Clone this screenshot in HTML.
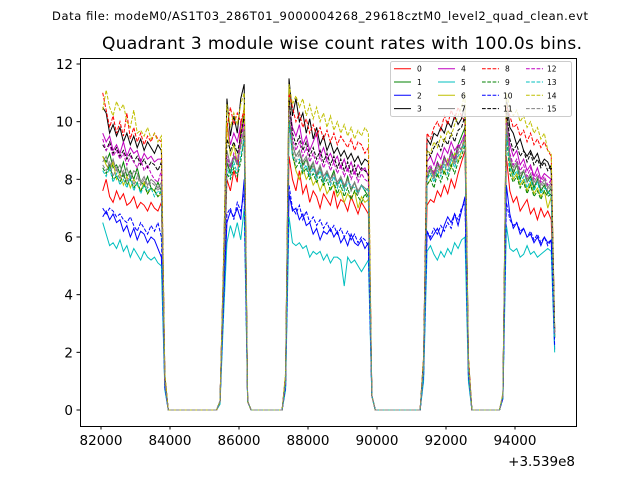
<!DOCTYPE html>
<html><head><meta charset="utf-8"><style>
body{margin:0;background:#fff}
svg{display:block;font-family:"DejaVu Sans","Liberation Sans",sans-serif}
</style></head><body>
<svg id="chart" width="640" height="480" viewBox="0 0 640 480">
<text x="320" y="20" text-anchor="middle" font-size="11.5" textLength="536">Data file: modeM0/AS1T03_286T01_9000004268_29618cztM0_level2_quad_clean.evt</text>
<text x="342" y="49" text-anchor="middle" font-size="17" textLength="480">Quadrant 3 module wise count rates with 100.0s bins.</text>
<g id="ticks"></g>
<g id="lines"></g>
<rect x="80.5" y="58.5" width="496" height="368" fill="none" stroke="#000" stroke-width="1"/>
<g id="legend"></g>
<text x="575" y="466" text-anchor="end" font-size="13.5">+3.539e8</text>
</svg>
<script>
const xTicks=[82000,84000,86000,88000,90000,92000,94000];
const yTicks=[0,2,4,6,8,10,12];
const startTime=82050, binSize=100;
const colors=['#ff0000','#008000','#0000ff','#000000','#bf00bf','#00bfbf','#bfbf00','#808080'];
const s0=[7.6,8.0,7.4,7.2,7.6,7.3,7.5,7.1,7.2,7.4,7.0,7.2,7.1,6.9,7.2,7.0,6.9,7.2,1.0,0,0,0,0,0,0,0,0,0,0,0,0,0,0,0,0.3,4.0,8.0,7.6,8.3,7.9,10.0,9.5,0.3,0,0,0,0,0,0,0,0,0,0,1.0,8.8,8.0,7.6,8.3,7.5,7.8,7.2,7.6,7.4,7.0,7.5,7.3,7.1,7.6,7.0,7.3,7.2,6.9,7.4,7.1,6.8,7.2,7.0,6.8,0.5,0,0,0,0,0,0,0,0,0,0,0,0,0,0,1.5,7.1,7.3,7.2,7.6,7.4,7.8,7.5,8.0,7.7,8.2,8.6,9.0,1.5,0,0,0,0,0,0,0,0,0,0.5,8.8,7.6,7.2,7.4,6.9,7.1,7.3,6.8,7.0,6.6,7.0,6.7,6.9,6.6,2.5];
const s1=[8.8,8.6,8.9,8.4,8.5,8.2,8.6,8.1,8.3,8.0,8.4,7.9,7.8,8.1,7.7,7.6,7.9,7.6,1.0,0,0,0,0,0,0,0,0,0,0,0,0,0,0,0,0.3,4.5,8.6,8.2,8.8,8.5,9.6,10.2,0.3,0,0,0,0,0,0,0,0,0,0,1.0,10.0,9.2,8.8,9.0,8.5,8.7,8.3,8.6,8.1,8.4,7.9,8.2,8.0,8.3,7.8,8.0,7.7,8.1,7.6,7.9,7.5,7.8,7.6,7.4,0.5,0,0,0,0,0,0,0,0,0,0,0,0,0,0,1.5,8.0,8.4,8.2,8.6,8.3,8.8,8.5,9.0,8.7,9.2,9.5,9.8,1.5,0,0,0,0,0,0,0,0,0,0.5,9.8,8.6,8.2,8.5,8.0,8.3,7.9,8.1,7.7,8.0,7.6,7.8,7.5,7.7,2.5];
const s2=[6.7,6.9,6.6,6.8,6.5,6.6,6.2,6.4,6.0,6.3,5.9,6.2,6.1,5.8,6.0,5.9,5.6,5.3,0.8,0,0,0,0,0,0,0,0,0,0,0,0,0,0,0,0.3,3.5,6.5,6.9,6.7,7.0,6.6,8.0,0.3,0,0,0,0,0,0,0,0,0,0,0.8,7.5,6.9,7.0,6.6,6.8,6.4,6.5,6.1,6.3,5.9,6.2,6.1,6.3,6.0,6.2,5.8,6.0,5.7,6.1,5.8,5.7,5.9,5.6,5.8,0.5,0,0,0,0,0,0,0,0,0,0,0,0,0,0,1.2,6.2,5.9,6.1,6.3,6.0,6.4,6.7,6.5,6.8,6.4,6.9,7.4,1.2,0,0,0,0,0,0,0,0,0,0.4,7.8,6.8,6.3,6.5,6.1,6.3,6.0,6.1,5.8,6.0,5.7,6.0,5.8,5.9,2.1];
const s3=[10.5,10.3,9.6,9.9,9.5,9.8,9.3,9.6,9.2,9.5,9.1,9.4,9.0,9.3,9.1,8.9,9.2,9.0,1.2,0,0,0,0,0,0,0,0,0,0,0,0,0,0,0,0.3,5.0,10.8,9.5,10.2,9.6,10.8,11.3,0.3,0,0,0,0,0,0,0,0,0,0,1.2,11.5,10.2,10.8,10.0,10.3,9.6,10.1,9.4,9.8,9.2,9.5,9.0,9.3,8.9,9.1,8.8,9.0,8.7,8.9,8.6,8.8,8.5,8.7,8.6,0.5,0,0,0,0,0,0,0,0,0,0,0,0,0,0,1.8,9.4,9.2,9.6,9.5,9.8,9.6,10.0,9.8,10.2,9.9,10.1,10.6,1.8,0,0,0,0,0,0,0,0,0,0.5,10.8,9.8,9.6,9.2,9.4,9.0,8.8,9.0,8.7,8.9,8.5,8.7,8.6,8.3,2.8];
const s4=[9.6,9.3,9.5,9.0,9.2,8.9,9.3,8.8,9.1,8.9,9.0,8.6,8.9,8.7,8.8,8.6,8.7,8.7,1.1,0,0,0,0,0,0,0,0,0,0,0,0,0,0,0,0.3,4.8,10.0,9.2,9.6,9.3,9.9,10.4,0.3,0,0,0,0,0,0,0,0,0,0,1.1,10.6,9.8,9.5,9.9,9.2,9.5,9.0,9.3,9.6,8.8,9.1,8.7,8.9,8.6,8.8,8.4,8.7,8.3,8.6,8.2,8.5,8.3,8.4,8.1,0.5,0,0,0,0,0,0,0,0,0,0,0,0,0,0,1.6,8.6,8.8,8.5,8.9,8.7,9.1,8.9,9.3,9.0,9.2,9.0,9.6,1.6,0,0,0,0,0,0,0,0,0,0.5,10.2,9.2,8.8,9.0,8.5,8.7,8.3,8.5,8.1,8.4,8.0,8.2,8.1,8.0,2.7];
const s5=[6.5,6.1,5.7,5.8,5.6,5.9,5.5,5.7,5.3,5.6,5.4,5.2,5.5,5.3,5.2,5.3,5.1,5.0,0.7,0,0,0,0,0,0,0,0,0,0,0,0,0,0,0,0.2,3.2,5.8,6.4,6.0,6.5,5.9,7.0,0.3,0,0,0,0,0,0,0,0,0,0,0.7,6.7,5.8,5.7,5.8,5.6,5.7,5.3,5.5,5.4,5.5,5.2,5.4,5.1,5.3,5.3,5.2,4.3,5.3,5.1,5.2,5.0,4.8,5.0,5.2,0.5,0,0,0,0,0,0,0,0,0,0,0,0,0,0,1.0,5.5,5.7,5.4,5.2,5.5,5.3,5.6,5.4,5.8,5.6,5.9,6.0,1.0,0,0,0,0,0,0,0,0,0,0.4,6.4,5.6,5.5,5.6,5.3,5.4,5.7,5.4,5.5,5.3,5.4,5.5,5.6,5.5,2.0];
const s6=[8.8,8.5,8.3,8.6,8.0,8.2,7.8,8.1,7.7,8.0,7.8,7.6,7.9,7.5,7.7,7.6,7.4,7.5,1.0,0,0,0,0,0,0,0,0,0,0,0,0,0,0,0,0.3,4.6,10.0,8.8,9.2,8.6,9.4,10.6,0.3,0,0,0,0,0,0,0,0,0,0,1.0,11.2,8.9,8.3,8.0,8.4,8.0,8.2,7.8,8.0,7.6,7.9,7.5,7.7,7.8,7.4,7.6,7.2,7.5,7.3,7.6,7.0,7.4,7.2,7.3,0.5,0,0,0,0,0,0,0,0,0,0,0,0,0,0,1.5,7.8,8.0,8.3,8.1,8.5,8.2,8.7,8.4,8.9,8.6,9.0,9.4,1.5,0,0,0,0,0,0,0,0,0,0.5,10.6,8.4,8.0,8.2,7.8,8.0,7.6,7.9,7.5,7.7,7.4,7.6,7.0,7.4,2.6];
const s7=[8.6,8.8,8.4,8.7,8.3,8.5,8.1,8.4,8.0,8.3,8.2,7.9,8.1,7.8,8.0,7.9,7.7,7.9,1.0,0,0,0,0,0,0,0,0,0,0,0,0,0,0,0,0.3,4.7,9.0,8.5,8.8,8.6,9.2,9.8,0.3,0,0,0,0,0,0,0,0,0,0,1.0,11.0,9.2,8.8,9.0,8.6,8.8,8.4,8.6,8.2,8.5,8.1,8.3,8.0,8.2,7.9,8.1,7.8,8.0,7.7,7.9,7.6,7.8,7.7,7.6,0.5,0,0,0,0,0,0,0,0,0,0,0,0,0,0,1.5,8.2,8.4,8.1,8.5,8.3,8.7,8.5,8.9,8.6,9.0,9.3,9.6,1.5,0,0,0,0,0,0,0,0,0,0.5,10.4,8.8,8.4,8.6,8.2,8.3,8.0,8.2,7.9,8.1,7.8,8.0,7.7,7.9,2.7];
const s8=[11.0,10.4,9.8,10.2,9.6,10.0,9.5,10.3,9.4,9.8,9.3,9.6,9.2,9.5,9.3,9.6,9.4,9.3,1.2,0,0,0,0,0,0,0,0,0,0,0,0,0,0,0,0.3,5.0,9.8,10.5,9.9,10.3,10.0,10.4,0.3,0,0,0,0,0,0,0,0,0,0,1.2,11.0,10.5,10.0,10.3,9.8,10.1,9.6,9.9,9.5,9.8,9.4,9.7,9.3,9.6,9.2,9.5,9.3,9.1,9.4,9.0,9.3,9.2,8.9,9.1,0.5,0,0,0,0,0,0,0,0,0,0,0,0,0,0,1.8,9.6,9.4,9.8,10.0,9.7,10.2,9.9,10.4,10.1,10.5,10.2,10.0,1.8,0,0,0,0,0,0,0,0,0,0.5,10.6,10.2,9.8,9.9,9.5,9.7,9.3,9.6,9.2,9.4,9.1,9.3,9.0,8.8,2.8];
const s9=[8.4,8.2,8.5,8.0,8.1,7.9,8.2,7.8,8.0,7.7,7.9,7.6,7.8,7.5,7.7,7.6,7.4,7.6,1.0,0,0,0,0,0,0,0,0,0,0,0,0,0,0,0,0.3,4.3,8.2,8.0,8.4,8.1,8.6,9.5,0.3,0,0,0,0,0,0,0,0,0,0,1.0,10.2,8.8,8.4,8.6,8.2,8.4,8.0,8.2,7.9,8.1,7.8,8.0,7.6,7.9,7.5,7.8,7.4,7.7,7.3,7.6,7.4,7.2,7.5,7.3,0.5,0,0,0,0,0,0,0,0,0,0,0,0,0,0,1.4,7.8,8.0,7.7,8.2,7.9,8.3,8.0,8.5,8.2,8.6,8.8,9.2,1.4,0,0,0,0,0,0,0,0,0,0.5,9.5,8.2,7.9,8.1,7.7,7.9,7.5,7.8,7.4,7.6,7.3,7.6,7.4,7.5,2.5];
const s10=[7.0,6.8,7.0,6.9,6.7,6.8,6.6,6.5,6.7,6.4,6.2,6.5,6.3,6.1,6.4,6.2,6.5,6.0,0.8,0,0,0,0,0,0,0,0,0,0,0,0,0,0,0,0.3,3.6,6.8,7.0,6.6,7.2,6.9,7.5,0.3,0,0,0,0,0,0,0,0,0,0,0.8,7.8,7.0,6.8,7.1,6.6,6.9,6.5,6.7,6.4,6.6,6.3,6.5,6.2,6.4,6.1,6.3,6.0,6.2,5.9,6.1,5.8,6.0,5.9,5.7,0.5,0,0,0,0,0,0,0,0,0,0,0,0,0,0,1.2,6.2,6.0,6.3,6.1,6.4,6.2,6.5,6.3,6.8,6.6,7.0,7.2,1.2,0,0,0,0,0,0,0,0,0,0.4,7.2,6.6,6.4,6.5,6.2,6.3,6.0,6.2,5.9,6.1,5.8,6.0,5.7,5.9,2.2];
const s11=[9.2,9.0,9.3,8.9,9.1,8.8,9.0,8.7,8.9,8.6,8.8,8.5,8.7,8.4,8.6,8.5,8.3,8.6,1.1,0,0,0,0,0,0,0,0,0,0,0,0,0,0,0,0.3,4.8,9.4,9.0,9.3,8.9,9.5,10.2,0.3,0,0,0,0,0,0,0,0,0,0,1.1,10.8,9.6,9.2,9.5,9.0,9.3,8.8,9.1,8.7,9.0,8.6,8.9,8.5,8.8,8.4,8.7,8.3,8.6,8.2,8.5,8.1,8.4,8.3,8.2,0.5,0,0,0,0,0,0,0,0,0,0,0,0,0,0,1.6,9.0,8.8,9.1,9.3,9.0,9.4,9.2,9.6,9.3,9.7,9.8,10.2,1.6,0,0,0,0,0,0,0,0,0,0.5,10.4,9.4,9.0,9.2,8.8,9.0,8.6,8.9,8.5,8.7,8.4,8.6,8.3,8.5,2.7];
const s12=[9.4,9.0,9.2,8.8,9.0,8.7,8.9,8.5,8.8,8.6,8.4,8.7,8.3,8.5,8.2,8.0,7.9,8.3,1.0,0,0,0,0,0,0,0,0,0,0,0,0,0,0,0,0.3,4.6,8.8,8.4,8.9,8.6,9.4,10.0,0.3,0,0,0,0,0,0,0,0,0,0,1.0,10.4,9.4,9.0,9.3,8.8,9.1,8.6,8.9,8.5,8.8,8.4,8.7,8.3,8.6,8.2,8.5,8.1,8.4,8.0,8.3,7.9,8.2,8.0,7.9,0.5,0,0,0,0,0,0,0,0,0,0,0,0,0,0,1.5,8.3,8.5,8.2,8.6,8.4,8.8,8.5,9.0,8.7,9.1,9.3,9.6,1.5,0,0,0,0,0,0,0,0,0,0.5,10.0,8.9,8.5,8.7,8.3,8.5,8.1,8.4,8.0,8.2,7.9,8.1,7.8,8.0,2.6];
const s13=[8.3,8.1,8.4,7.9,8.2,7.8,8.0,7.7,8.1,7.6,7.9,7.5,7.8,7.6,7.7,7.4,7.6,7.5,1.0,0,0,0,0,0,0,0,0,0,0,0,0,0,0,0,0.3,4.4,8.4,8.1,8.6,8.2,8.8,9.4,0.3,0,0,0,0,0,0,0,0,0,0,1.0,10.0,8.8,8.6,8.7,8.3,8.5,8.1,8.4,8.0,8.3,7.9,8.2,7.8,8.1,7.7,8.0,7.6,7.9,7.8,7.7,7.5,7.8,7.6,7.7,0.5,0,0,0,0,0,0,0,0,0,0,0,0,0,0,1.4,8.0,8.2,7.9,8.3,8.1,8.5,8.2,8.7,8.4,8.8,9.0,9.3,1.4,0,0,0,0,0,0,0,0,0,0.5,9.6,8.4,8.1,8.3,7.9,8.1,7.7,8.0,7.6,7.9,7.5,7.7,7.6,7.4,2.5];
const s14=[10.4,11.1,10.5,10.2,10.7,10.4,10.6,10.0,9.8,10.4,9.6,9.7,9.5,9.8,9.4,9.6,9.3,9.5,1.3,0,0,0,0,0,0,0,0,0,0,0,0,0,0,0,0.3,5.2,10.6,9.8,10.3,9.9,10.6,11.0,0.3,0,0,0,0,0,0,0,0,0,0,1.3,11.3,10.6,10.9,10.5,10.8,10.2,10.6,10.1,10.5,10.0,10.3,9.8,10.2,9.7,10.0,9.6,9.9,9.5,9.8,9.4,9.7,9.5,9.8,9.6,0.5,0,0,0,0,0,0,0,0,0,0,0,0,0,0,1.8,9.0,8.9,9.3,9.1,9.5,9.3,9.7,9.5,9.9,10.2,10.5,11.0,1.8,0,0,0,0,0,0,0,0,0,0.6,11.0,10.5,10.2,10.4,10.0,10.2,9.8,10.0,9.6,9.8,9.4,9.6,9.0,8.9,2.9];
const s15=[8.5,8.3,8.6,8.1,8.4,8.0,8.3,7.9,8.2,7.8,8.1,7.8,8.0,7.7,7.9,7.8,7.6,7.8,1.0,0,0,0,0,0,0,0,0,0,0,0,0,0,0,0,0.3,4.6,8.7,8.3,8.8,8.5,9.1,9.7,0.3,0,0,0,0,0,0,0,0,0,0,1.0,10.5,9.0,8.6,8.9,8.4,8.7,8.2,8.5,8.1,8.4,8.0,8.3,7.9,8.2,7.8,8.1,7.7,8.0,7.6,7.9,7.5,7.8,7.7,7.6,0.5,0,0,0,0,0,0,0,0,0,0,0,0,0,0,1.5,8.1,8.3,8.0,8.4,8.2,8.6,8.3,8.8,8.5,8.9,9.1,9.5,1.5,0,0,0,0,0,0,0,0,0,0.5,9.9,8.7,8.3,8.5,8.1,8.3,7.9,8.2,7.8,8.0,7.7,7.9,7.6,7.8,2.6];
const series=[s0,s1,s2,s3,s4,s5,s6,s7,s8,s9,s10,s11,s12,s13,s14,s15];
const seriesNames=['0','1','2','3','4','5','6','7','8','9','10','11','12','13','14','15'];

const NS='http://www.w3.org/2000/svg';
const X=v=>101+(v-82000)*0.0345;
const Y=v=>410-v*(346/12);
function mk(tag,attrs,parent){const e=document.createElementNS(NS,tag);for(const k in attrs)e.setAttribute(k,attrs[k]);parent.appendChild(e);return e;}
const ticks=document.getElementById('ticks');
xTicks.forEach(t=>{
  const l=mk('line',{x1:X(t),x2:X(t),y1:426,y2:429.5,stroke:'#000'},ticks);
  
  
  const tx=mk('text',{x:X(t),y:445,'text-anchor':'middle','font-size':'13.5'},ticks);
  tx.textContent=t;
  
  
});
yTicks.forEach(t=>{
  const l=mk('line',{x1:76.5,x2:80,y1:Y(t),y2:Y(t),stroke:'#000'},ticks);
  
  
  const tx=mk('text',{x:73,y:Y(t)+5,'text-anchor':'end','font-size':'13.5'},ticks);
  tx.textContent=t;
  
  
});
const lines=document.getElementById('lines');
series.forEach((s,i)=>{
  const pts=s.map((v,j)=>X(startTime+j*binSize).toFixed(2)+','+Y(v).toFixed(2)).join(' ');
  const p=mk('polyline',{points:pts,fill:'none',stroke:colors[i%8],'stroke-width':1},lines);
  if(i>=8)p.setAttribute('stroke-dasharray','3.7,1.6');
  
  
});
const lg=document.getElementById('legend');
const box=mk('rect',{x:390.5,y:61.5,width:181,height:55,rx:2,fill:'#fff','fill-opacity':0.8,stroke:'#ccc'},lg);


series.forEach((s,i)=>{
  const col=Math.floor(i/4),row=i%4;
  const x0=394+col*44,y0=68.7+row*13.3;
  const l=mk('line',{x1:x0,x2:x0+17,y1:y0,y2:y0,stroke:colors[i%8],'stroke-width':1},lg);
  if(i>=8)l.setAttribute('stroke-dasharray','3.7,1.6');
  
  
  const t=mk('text',{x:x0+(i>=10?21:23),y:y0+3,'font-size':'7.5'},lg);
  t.textContent=seriesNames[i];
  
  
});
</script>
</body></html>
